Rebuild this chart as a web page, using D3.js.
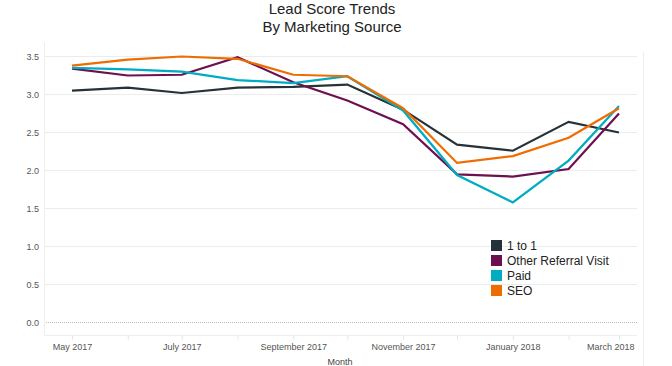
<!DOCTYPE html>
<html><head><meta charset="utf-8">
<script src="https://cdn.jsdelivr.net/npm/d3@7"></script>
<style>body{margin:0;background:#fff}svg{display:block;font-family:"Liberation Sans",Arial,sans-serif}</style>
</head><body><svg id="c" width="672" height="366"></svg>
<script>
const months = ["2017-05","2017-06","2017-07","2017-08","2017-09","2017-10","2017-11","2017-12","2018-01","2018-02","2018-03"];
const seriesNames = ["1 to 1","Other Referral Visit","Paid","SEO"];
const oneToOne = [3.05,3.09,3.02,3.09,3.10,3.13,2.80,2.34,2.26,2.64,2.50];
const otherReferral = [3.34,3.25,3.26,3.49,3.16,2.92,2.61,1.95,1.92,2.02,2.75];
const paid = [3.35,3.33,3.30,3.19,3.15,3.24,2.79,1.94,1.58,2.13,2.85];
const seo = [3.38,3.46,3.50,3.47,3.26,3.24,2.82,2.10,2.19,2.43,2.82];
const colors = ["#263238","#6d1050","#00acc1","#ef6c00"];
const yTicks = [0,0.5,1,1.5,2,2.5,3,3.5];
const title = ["Lead Score Trends","By Marketing Source"];
const xTitle = "Month";

const svg = d3.select("#c");
const parse = d3.timeParse("%Y-%m");
const dates = months.map(parse);
const x = d3.scaleTime().domain(d3.extent(dates)).range([72,619]);
const y = d3.scaleLinear().domain([0,3.5]).range([322.5,56.5]);
const L = 44, R = 637, B = 335.5;

// grid
svg.append("g").selectAll("line").data(yTicks.filter(d=>d>0)).join("line")
  .attr("x1",L).attr("x2",R).attr("y1",d=>y(d)).attr("y2",d=>y(d))
  .attr("stroke","#ececec").attr("stroke-width",1);
svg.append("line").attr("x1",L).attr("x2",R).attr("y1",y(0)).attr("y2",y(0))
  .attr("stroke","#bbb").attr("stroke-dasharray","1,1");
// borders
svg.append("line").attr("x1",L+0.5).attr("x2",L+0.5).attr("y1",42).attr("y2",B).attr("stroke","#eee");
svg.append("line").attr("x1",L).attr("x2",R).attr("y1",B).attr("y2",B).attr("stroke","#eee");
svg.append("line").attr("x1",643.5).attr("x2",643.5).attr("y1",52).attr("y2",366).attr("stroke","#eee");

// y axis
const ya = svg.append("g").attr("transform",`translate(${L},0)`)
  .call(d3.axisLeft(y).tickValues(yTicks).tickFormat(d3.format(".1f")).tickSize(0).tickPadding(5));
ya.select(".domain").remove();
ya.selectAll("text").attr("fill","#555").style("font-size","9px");

// x axis
const xa = svg.append("g").attr("transform",`translate(0,${B})`)
  .call(d3.axisBottom(x).tickValues(dates).tickSize(4).tickPadding(4)
    .tickFormat((d,i)=> i%2===0 ? d3.timeFormat("%B %Y")(d) : ""));
xa.select(".domain").remove();
xa.selectAll("line").attr("stroke","#e4e4e4");
xa.selectAll("text").attr("fill","#555").style("font-size","9px");
xa.selectAll("text").filter((d,i)=>i===dates.length-1).attr("text-anchor","end").attr("dx","15");
svg.append("text").attr("x",340).attr("y",365).attr("text-anchor","middle")
  .attr("fill","#444").style("font-size","9px").text(xTitle);

// lines
const all = [oneToOne,otherReferral,paid,seo];
const line = d3.line().x((d,i)=>x(dates[i])).y(d=>y(d));
all.forEach((s,k)=>{
  svg.append("path").datum(s).attr("d",line).attr("fill","none")
    .attr("stroke",colors[k]).attr("stroke-width",2.2).attr("stroke-linejoin","miter");
});

// title
svg.append("g").selectAll("text").data(title).join("text")
  .attr("x",332).attr("y",(d,i)=>14+i*18).attr("text-anchor","middle")
  .attr("fill","#222").style("font-size","15px").text(d=>d);

// legend
const lg = svg.append("g").attr("transform","translate(491,240)");
seriesNames.forEach((n,i)=>{
  lg.append("rect").attr("x",0).attr("y",i*15).attr("width",11).attr("height",11).attr("fill",colors[i]);
  lg.append("text").attr("x",16).attr("y",i*15+10).attr("fill","#222").style("font-size","12px").text(n);
});
</script></body></html>
